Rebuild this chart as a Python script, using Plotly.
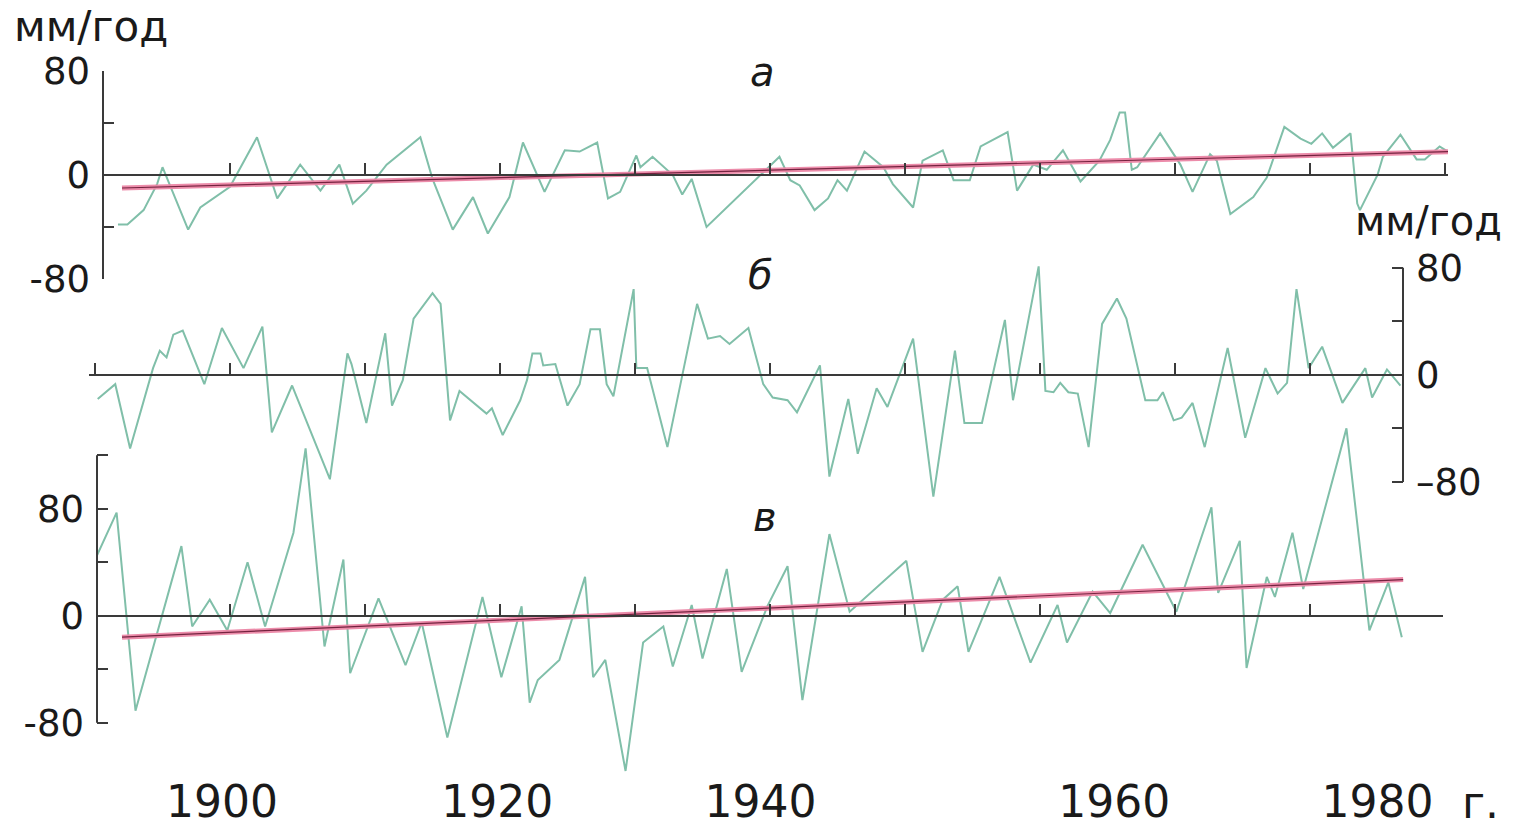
import plotly.graph_objects as go

# ---------------- data ----------------
years_a = [1891.7, 1892.4, 1893.6, 1894.6, 1895.0, 1896.9, 1897.8, 1900.0, 1902.0, 1903.5,
           1905.2, 1906.7, 1908.1, 1909.1, 1910.1, 1911.6, 1914.1, 1915.0, 1916.5, 1918.0,
           1919.1, 1920.7, 1921.7, 1923.3, 1924.8, 1925.9, 1927.2, 1928.0, 1928.9, 1930.1,
           1930.4, 1931.3, 1932.8, 1933.5, 1934.2, 1935.3, 1940.7, 1941.5, 1942.2, 1943.3,
           1944.3, 1945.0, 1945.7, 1947.0, 1948.4, 1949.1, 1950.6, 1951.3, 1952.8, 1953.6,
           1954.8, 1955.6, 1957.6, 1958.3, 1959.5, 1960.5, 1961.7, 1963.0, 1964.4, 1965.2,
           1965.9, 1966.3, 1966.8, 1967.2, 1968.9, 1970.4, 1971.3, 1972.6, 1973.1, 1974.1,
           1975.8, 1976.8, 1978.1, 1979.3, 1980.1, 1980.9, 1981.7, 1983.0, 1983.5, 1983.7,
           1985.0, 1985.4, 1986.7, 1987.9, 1988.5, 1989.6, 1990.2]
vals_a = [-38, -38, -27, -7, 6, -42, -25, -9, 29, -18,
          8, -12, 8, -22, -12, 8, 29, -3, -42, -17,
          -45, -17, 25, -13, 19, 18, 25, -18, -13, 15,
          6, 14, 0, -15, -3, -40, 14, -4, -8, -27,
          -18, -4, -12, 18, 6, -7, -25, 11, 19, -4,
          -4, 22, 33, -12, 8, 4, 19, -5, 11, 27,
          48, 48, 4, 6, 32, 8, -13, 16, 11, -30,
          -17, -2, 37, 28, 24, 32, 21, 32, -22, -27,
          0, 14, 31, 12, 12, 22, 18]

years_b = [1890.2, 1891.5, 1892.6, 1894.3, 1894.8, 1895.3, 1895.8, 1896.5, 1898.1, 1899.4,
           1901.0, 1902.4, 1903.1, 1904.6, 1907.4, 1908.7, 1909.0, 1910.1, 1911.5, 1912.0,
           1912.8, 1913.6, 1915.0, 1915.6, 1916.3, 1917.0, 1919.0, 1919.4, 1920.2, 1921.5,
           1922.0, 1922.4, 1923.0, 1923.2, 1924.1, 1925.0, 1925.9, 1926.7, 1927.4, 1927.9,
           1928.4, 1929.9, 1930.1, 1930.9, 1932.4, 1934.6, 1935.4, 1936.3, 1937.0, 1938.4,
           1939.5, 1940.2, 1941.3, 1942.0, 1943.7, 1944.4, 1945.8, 1946.5, 1947.9, 1948.7,
           1950.6, 1952.1, 1953.7, 1954.4, 1955.7, 1957.4, 1958.0, 1959.9, 1960.4, 1961.0,
           1961.5, 1962.1, 1962.8, 1963.6, 1964.6, 1965.7, 1966.4, 1967.8, 1968.7, 1969.1,
           1969.9, 1970.5, 1971.3, 1972.2, 1973.9, 1975.2, 1976.7, 1977.6, 1978.3, 1979.0,
           1979.9, 1980.9, 1982.4, 1983.1, 1984.1, 1984.6, 1985.7, 1986.7]
vals_b = [-18, -7, -55, 5, 18, 13, 30, 33, -7, 35,
          5, 36, -43, -8, -78, 16, 8, -36, 31, -23,
          -4, 42, 61, 53, -34, -12, -29, -25, -45, -19,
          -4, 16, 16, 7, 8, -23, -7, 34, 34, -7,
          -16, 64, 5, 5, -54, 53, 27, 29, 23, 35,
          -7, -17, -19, -28, 7, -76, -18, -59, -10, -24,
          27, -91, 18, -36, -36, 41, -19, 81, -12, -13,
          -6, -13, -14, -54, 38, 57, 42, -19, -19, -13,
          -34, -32, -21, -54, 20, -47, 5, -14, -6, 64,
          5, 21, -21, -10, 5, -17, 4, -8]

years_c = [1890.1, 1891.6, 1893.0, 1896.4, 1897.2, 1898.5, 1899.8, 1901.3, 1902.6, 1904.7,
           1905.6, 1907.0, 1908.4, 1908.9, 1911.0, 1913.0, 1914.2, 1916.1, 1918.7, 1920.1,
           1921.6, 1922.2, 1922.8, 1924.4, 1926.3, 1926.9, 1927.8, 1929.3, 1930.6, 1932.1,
           1932.8, 1934.2, 1935.0, 1936.8, 1937.9, 1939.8, 1941.3, 1942.4, 1944.4, 1945.9,
           1950.1, 1951.3, 1952.8, 1953.9, 1954.7, 1957.0, 1959.3, 1961.3, 1962.0, 1963.9,
           1965.2, 1967.6, 1970.1, 1972.7, 1973.2, 1974.8, 1975.3, 1976.8, 1977.4, 1978.7,
           1979.5, 1982.7, 1984.4, 1985.8, 1986.8]
vals_c = [44, 77, -71, 52, -8, 12, -11, 40, -8, 62,
          125, -23, 42, -43, 13, -37, -5, -91, 14, -46,
          7, -65, -48, -33, 29, -46, -33, -116, -20, -8,
          -38, 8, -32, 35, -42, 7, 37, -63, 61, 3,
          41, -27, 12, 22, -27, 29, -35, 8, -20, 18,
          2, 53, 3, 81, 17, 56, -39, 29, 14, 62,
          20, 140, -11, 25, -16]

trend_a_years = [1892.0, 1990.4]
trend_a_vals = [-10, 18]
trend_c_years = [1892.0, 1986.9]
trend_c_vals = [-16, 27]

decade_ticks = [1890, 1900, 1910, 1920, 1930, 1940, 1950, 1960, 1970, 1980, 1990]
year_labels = ["1900", "1920", "1940", "1960", "1980"]
year_label_at = [1899.4, 1919.8, 1939.3, 1965.5, 1985.0]

# ---------------- geometry / style ----------------
W, H = 1524, 829
PX_PER_YEAR = 13.5
X_1900 = 230
FONT = "DejaVu Sans"
AX = "#3a3a3a"
GREEN = "#80bfa9"
PINK = "#ec86a6"
DARK = "#74223f"


def yr(px):
    return 1900 + (px - X_1900) / PX_PER_YEAR


def fx(px):
    return px / W


def fy(py):
    return 1 - py / H


# ypx: pixel rows of the top and bottom of each panel's value range (yrange)
panels = [
    dict(xpx=(103, 1448), ypx=(71, 279), yrange=(-80, 80), spine=(-80, 80), side="left",
         tv=[-80, -40, 0, 40, 80], tt=["-80", "", "0", "", "80"]),
    dict(xpx=(89, 1403), ypx=(261, 502), yrange=(-95, 85), spine=(-80, 80), side="right",
         tv=[-80, -40, 0, 40, 80], tt=["\u201380", "", "0", "", "80"]),
    dict(xpx=(97, 1443), ypx=(415, 783), yrange=(-125, 150), spine=(-80, 120), side="left",
         tv=[-80, -40, 0, 40, 80, 120], tt=["-80", "", "0", "", "80", ""]),
]

fig = go.Figure()
series = [(years_a, vals_a), (years_b, vals_b), (years_c, vals_c)]
layout = {}
shapes = []
for i, (p, (xs, ys)) in enumerate(zip(panels, series), start=1):
    sfx = "" if i == 1 else str(i)
    top, bot = p["ypx"]
    lo, hi = p["yrange"]
    zero_px = top + (hi - 0) / (hi - lo) * (bot - top)
    layout["xaxis" + sfx] = dict(
        domain=[fx(p["xpx"][0]), fx(p["xpx"][1])],
        range=[yr(p["xpx"][0]), yr(p["xpx"][1])],
        anchor="free", position=fy(zero_px),
        showline=True, linecolor=AX, linewidth=2,
        ticks="inside", tickvals=decade_ticks, ticklen=11, tickwidth=2, tickcolor=AX,
        showticklabels=False, showgrid=False, zeroline=False, fixedrange=True,
    )
    layout["yaxis" + sfx] = dict(
        domain=[fy(bot), fy(top)], range=[lo, hi], anchor="x" + sfx, side=p["side"],
        showline=False, ticks="inside", ticklen=11, tickwidth=2, tickcolor=AX,
        tickvals=p["tv"], ticktext=p["tt"], ticklabelstandoff=12,
        tickfont=dict(family=FONT, size=37, color="#1a1a1a"),
        showgrid=False, zeroline=False, fixedrange=True,
    )
    spine_x = p["xpx"][0] if p["side"] == "left" else p["xpx"][1]
    shapes.append(dict(type="line", xref="paper", yref="y" + sfx,
                       x0=fx(spine_x), x1=fx(spine_x), y0=p["spine"][0], y1=p["spine"][1],
                       line=dict(color=AX, width=2)))
    fig.add_trace(go.Scatter(x=xs, y=ys, mode="lines", xaxis="x" + sfx, yaxis="y" + sfx,
                             line=dict(color=GREEN, width=2), hoverinfo="x+y", showlegend=False))

for ty, tv, ax in [(trend_a_years, trend_a_vals, ""), (trend_c_years, trend_c_vals, "3")]:
    fig.add_trace(go.Scatter(x=ty, y=tv, mode="lines", xaxis="x" + ax, yaxis="y" + ax,
                             line=dict(color=PINK, width=5), opacity=0.95, showlegend=False))
    fig.add_trace(go.Scatter(x=ty, y=tv, mode="lines", xaxis="x" + ax, yaxis="y" + ax,
                             line=dict(color=DARK, width=1.2), showlegend=False))

# bottom axis carrying the year labels
layout["xaxis4"] = dict(
    domain=[fx(97), fx(1443)], range=[yr(97), yr(1443)], anchor="free", position=fy(772),
    showline=False, ticks="", tickvals=year_label_at, ticktext=year_labels,
    tickfont=dict(family=FONT, size=44, color="#1a1a1a"),
    showgrid=False, zeroline=False, fixedrange=True,
)
fig.add_trace(go.Scatter(x=[None], y=[None], xaxis="x4", yaxis="y3", mode="lines",
                         showlegend=False, hoverinfo="skip"))

txt = dict(family=FONT, color="#1a1a1a")
annotations = [
    dict(text="мм/год", x=fx(12), y=fy(27), xanchor="left", yanchor="middle", font=dict(size=42, **txt)),
    dict(text="мм/год", x=fx(1504), y=fy(221), xanchor="right", yanchor="middle", font=dict(size=40, **txt)),
    dict(text="<i>а</i>", x=fx(762), y=fy(72), xanchor="center", yanchor="middle", font=dict(size=40, **txt)),
    dict(text="<i>б</i>", x=fx(760), y=fy(275), xanchor="center", yanchor="middle", font=dict(size=40, **txt)),
    dict(text="<i>в</i>", x=fx(765), y=fy(517), xanchor="center", yanchor="middle", font=dict(size=40, **txt)),
    dict(text="г.", x=fx(1460), y=fy(802), xanchor="left", yanchor="middle", font=dict(size=44, **txt)),
]
for a in annotations:
    a.update(xref="paper", yref="paper", showarrow=False)

fig.update_layout(
    width=W, height=H, margin=dict(l=0, r=0, t=0, b=0, autoexpand=False),
    paper_bgcolor="white", plot_bgcolor="rgba(0,0,0,0)",
    shapes=shapes, annotations=annotations, showlegend=False,
    **layout,
)
fig.write_html("out.html")
